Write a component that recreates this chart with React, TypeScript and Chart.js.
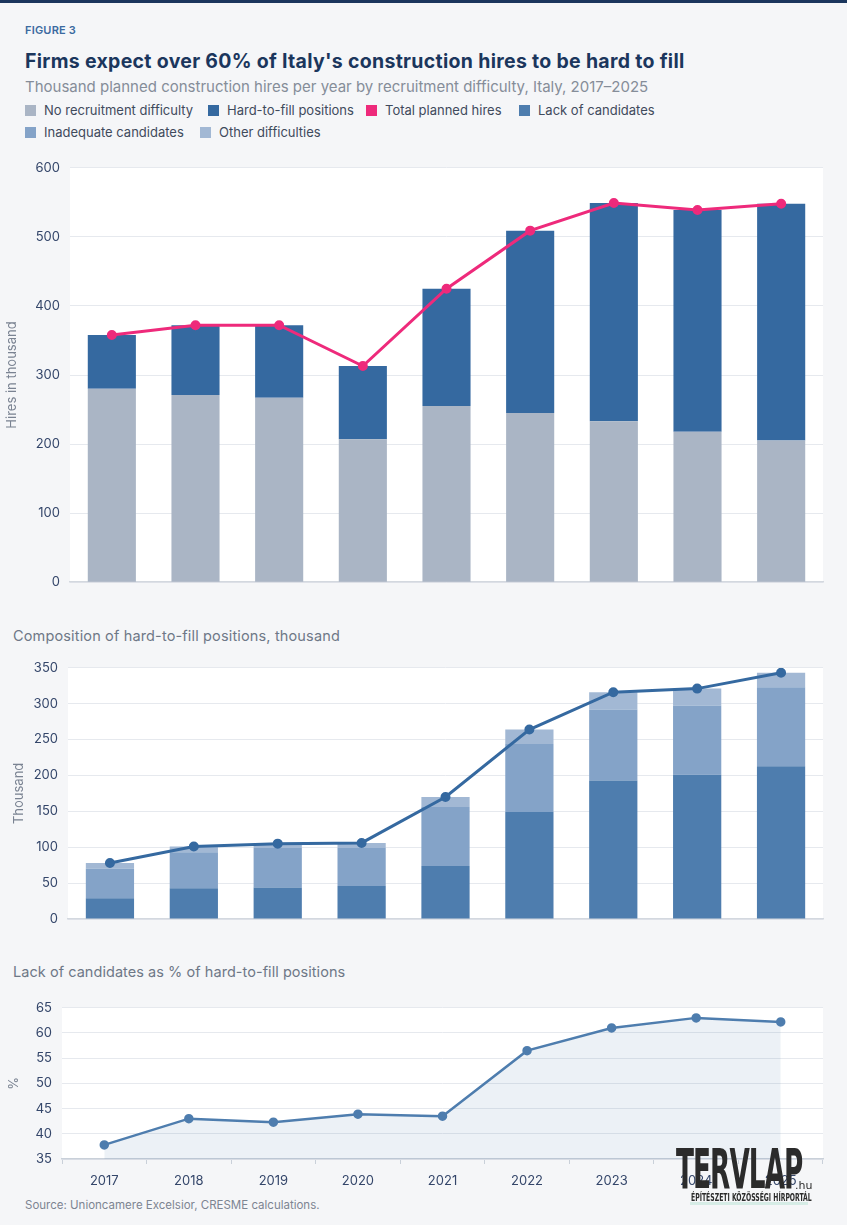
import React, { useEffect, useRef } from 'react';
import { Chart, registerables } from 'chart.js';

Chart.register(...registerables);

const FONT = 'Inter, "Noto Sans", sans-serif';

const years = ['2017', '2018', '2019', '2020', '2021', '2022', '2023', '2024', '2025'];
const noDifficulty = [280, 271, 267, 207, 255, 245, 233, 218, 205];
const hardToFill = [78, 101, 105, 106, 170, 264, 316, 321, 343];
const totalPlanned = [358, 372, 372, 313, 425, 509, 549, 539, 548];
const lackOfCandidates = [29, 43, 44, 46, 74, 149, 193, 201, 213];
const inadequateCandidates = [41, 50, 55, 53, 82, 95, 99, 96, 110];
const otherDifficulties = [8, 8, 6, 7, 14, 20, 24, 24, 20];
const lackShare = [37.8, 43.0, 42.3, 43.9, 43.5, 56.5, 61.0, 63.0, 62.2];

const topTicks = [0, 100, 200, 300, 400, 500, 600];
const midTicks = [0, 50, 100, 150, 200, 250, 300, 350];
const lowTicks = [35, 40, 45, 50, 55, 60, 65];

const C_GRAY = '#aab5c5';
const C_HARD = '#3569a0';
const C_PINK = '#ee2a7b';
const C_LACK = '#4e7dae';
const C_INAD = '#84a3c8';
const C_OTHER = '#a2b8d4';
const GRID = '#e6e9ee';
const TICK = '#34466a';
const AXTITLE = '#7a8392';

const whiteArea = {
  id: 'whiteArea',
  beforeDraw(chart: any) {
    const { ctx, chartArea } = chart;
    ctx.save();
    ctx.fillStyle = '#ffffff';
    ctx.fillRect(chartArea.left, chartArea.top, chartArea.right - chartArea.left, chartArea.bottom - chartArea.top);
    ctx.restore();
  },
};

function ChartBox({ make, style }: { make: () => any; style: React.CSSProperties }) {
  const ref = useRef<HTMLCanvasElement | null>(null);
  useEffect(() => {
    if (!ref.current) return;
    const chart = new Chart(ref.current, make());
    return () => chart.destroy();
  }, []);
  return (
    <div style={{ position: 'absolute', ...style }}>
      <canvas ref={ref} />
    </div>
  );
}

const tickFont = { family: FONT, size: 13 };
const barCommon = { barPercentage: 0.575, categoryPercentage: 1, borderWidth: 0 };

function yScale(min: number, max: number, ticks: number[], title: string, width: number, titlePad: number) {
  return {
    min,
    max,
    afterBuildTicks(s: any) {
      s.ticks = ticks.map((v) => ({ value: v }));
    },
    afterFit(s: any) {
      s.width = width;
    },
    ticks: { padding: 10, color: TICK, font: tickFont },
    grid: { color: GRID, drawTicks: false, lineWidth: 1 },
    border: { display: false },
    title: { display: true, text: title, color: AXTITLE, font: { family: FONT, size: 13 }, padding: { top: titlePad, bottom: 0 } },
  };
}

function makeTop() {
  return {
    type: 'bar',
    data: {
      labels: years,
      datasets: [
        {
          type: 'line',
          label: 'Total planned hires',
          data: totalPlanned,
          borderColor: C_PINK,
          backgroundColor: C_PINK,
          pointBackgroundColor: C_PINK,
          pointBorderColor: C_PINK,
          borderWidth: 3,
          pointRadius: 3.5,
          order: 0,
        },
        { label: 'No recruitment difficulty', data: noDifficulty, backgroundColor: C_GRAY, stack: 's', order: 1, ...barCommon },
        { label: 'Hard-to-fill positions', data: hardToFill, backgroundColor: C_HARD, stack: 's', order: 1, ...barCommon },
      ],
    },
    options: {
      animation: false,
      responsive: true,
      maintainAspectRatio: false,
      layout: { padding: { top: 15, right: 24, left: 0, bottom: 0 } },
      plugins: { legend: { display: false }, tooltip: { enabled: false } },
      scales: {
        x: {
          stacked: true,
          ticks: { display: false },
          grid: { drawOnChartArea: false, drawTicks: false },
          border: { display: true, color: '#d3d8df', width: 1.5 },
          afterFit(s: any) {
            s.height = 16;
          },
        },
        y: { stacked: true, ...yScale(0, 600, topTicks, 'Hires in thousand', 70, 4) },
      },
    },
    plugins: [whiteArea],
  };
}

function makeMid() {
  return {
    type: 'bar',
    data: {
      labels: years,
      datasets: [
        {
          type: 'line',
          label: 'Hard-to-fill positions',
          data: hardToFill,
          borderColor: C_HARD,
          backgroundColor: C_HARD,
          pointBackgroundColor: C_HARD,
          pointBorderColor: C_HARD,
          borderWidth: 3,
          pointRadius: 3.5,
          order: 0,
        },
        { label: 'Lack of candidates', data: lackOfCandidates, backgroundColor: C_LACK, stack: 's', order: 1, ...barCommon },
        { label: 'Inadequate candidates', data: inadequateCandidates, backgroundColor: C_INAD, stack: 's', order: 1, ...barCommon },
        { label: 'Other difficulties', data: otherDifficulties, backgroundColor: C_OTHER, stack: 's', order: 1, ...barCommon },
      ],
    },
    options: {
      animation: false,
      responsive: true,
      maintainAspectRatio: false,
      layout: { padding: { top: 17, right: 24, left: 0, bottom: 0 } },
      plugins: { legend: { display: false }, tooltip: { enabled: false } },
      scales: {
        x: {
          stacked: true,
          ticks: { display: false },
          grid: { drawOnChartArea: false, drawTicks: false },
          border: { display: true, color: '#d3d8df', width: 1.5 },
          afterFit(s: any) {
            s.height = 21;
          },
        },
        y: { stacked: true, ...yScale(0, 350, midTicks, 'Thousand', 68, 11) },
      },
    },
    plugins: [whiteArea],
  };
}

function makeLow() {
  return {
    type: 'line',
    data: {
      labels: years,
      datasets: [
        {
          label: 'Lack of candidates share',
          data: lackShare,
          borderColor: C_LACK,
          backgroundColor: 'rgba(78,125,174,0.11)',
          pointBackgroundColor: C_LACK,
          pointBorderColor: C_LACK,
          borderWidth: 2.5,
          pointRadius: 3.5,
          fill: 'start',
          tension: 0,
        },
      ],
    },
    options: {
      animation: false,
      responsive: true,
      maintainAspectRatio: false,
      layout: { padding: { top: 13, right: 24, left: 0, bottom: 0 } },
      plugins: { legend: { display: false }, tooltip: { enabled: false } },
      scales: {
        x: {
          offset: true,
          ticks: { color: TICK, font: tickFont, padding: 9 },
          grid: { offset: true, drawOnChartArea: false, drawTicks: true, tickLength: 5, color: '#c9d0d9' },
          border: { display: true, color: '#c9d0d9', width: 1.5 },
          afterFit(s: any) {
            s.height = 31;
          },
        },
        y: yScale(35, 65, lowTicks, '%', 62, 6),
      },
    },
    plugins: [whiteArea],
  };
}

const legendItems = [
  { label: 'No recruitment difficulty', color: C_GRAY, x: 25, y: 110 },
  { label: 'Hard-to-fill positions', color: C_HARD, x: 208, y: 110 },
  { label: 'Total planned hires', color: C_PINK, x: 366, y: 110 },
  { label: 'Lack of candidates', color: C_LACK, x: 519, y: 110 },
  { label: 'Inadequate candidates', color: C_INAD, x: 25, y: 132 },
  { label: 'Other difficulties', color: C_OTHER, x: 200, y: 132 },
];

function Text({ x, y, size, color, weight, children, lh, ls }: any) {
  const h = lh || Math.round(size * 1.4);
  return (
    <div
      style={{
        position: 'absolute',
        left: x,
        top: y - h / 2,
        height: h,
        lineHeight: h + 'px',
        fontSize: size,
        color,
        fontWeight: weight || 400,
        whiteSpace: 'nowrap',
        fontFamily: FONT,
        letterSpacing: ls || 0,
      }}
    >
      {children}
    </div>
  );
}

export default function App() {
  return (
    <div
      style={{
        position: 'absolute',
        left: 0,
        top: 0,
        width: 847,
        height: 1225,
        background: '#f5f6f8',
        overflow: 'hidden',
        fontFamily: FONT,
      }}
    >
      <div style={{ position: 'absolute', left: 0, top: 0, width: 847, height: 3, background: '#1b365d' }} />
      <Text x={25} y={30} size={11} color="#3b6aa0" weight={600} ls={0.2}>FIGURE 3</Text>
      <Text x={25} y={61} size={19.5} color="#1b365d" weight={700} ls={0.3}>Firms expect over 60% of Italy's construction hires to be hard to fill</Text>
      <Text x={25} y={86} size={15} color="#858d99">Thousand planned construction hires per year by recruitment difficulty, Italy, 2017–2025</Text>
      {legendItems.map((it) => (
        <div key={it.label} style={{ position: 'absolute', left: it.x, top: it.y - 9, height: 18, display: 'flex', alignItems: 'center', whiteSpace: 'nowrap' }}>
          <span style={{ display: 'inline-block', width: 11, height: 11, background: it.color, marginRight: 8 }} />
          <span style={{ fontSize: 13, color: '#3f4a5c', fontFamily: FONT }}>{it.label}</span>
        </div>
      ))}

      <ChartBox make={makeTop} style={{ left: 0, top: 150, width: 847, height: 450 }} />

      <Text x={13} y={636} size={14.5} color="#6e7887" ls={0.15}>Composition of hard-to-fill positions, thousand</Text>
      <ChartBox make={makeMid} style={{ left: 0, top: 650, width: 847, height: 290 }} />

      <Text x={13} y={972} size={14.5} color="#6e7887" ls={0.05}>Lack of candidates as % of hard-to-fill positions</Text>
      <ChartBox make={makeLow} style={{ left: 0, top: 990, width: 847, height: 200 }} />

      <Text x={25} y={1205} size={11.5} color="#7d8592">Source: Unioncamere Excelsior, CRESME calculations.</Text>

      <div style={{ position: 'absolute', left: 676, top: 1147, width: 132, height: 60, zIndex: 5 }}>
        <div
          style={{
            position: 'absolute',
            left: 0,
            top: 0,
            fontFamily: '"DejaVu Sans", sans-serif',
            fontWeight: 700,
            fontSize: 56,
            lineHeight: '44px',
            height: 44,
            color: '#2b2b2b',
            transform: 'scaleX(0.47)',
            transformOrigin: 'left top',
            letterSpacing: -2,
            whiteSpace: 'nowrap',
          }}
        >
          TERVLAP
        </div>
        <div style={{ position: 'absolute', left: 119, top: 33, fontSize: 11, fontFamily: '"DejaVu Sans", sans-serif', color: '#2b2b2b', lineHeight: '12px' }}>.hu</div>
        <div style={{ position: 'absolute', left: 14, top: 55, width: 118, height: 3, background: '#d6ece6' }} />
        <div
          style={{
            position: 'absolute',
            left: 15,
            top: 45,
            fontSize: 10,
            fontWeight: 700,
            fontFamily: '"DejaVu Sans Condensed", "DejaVu Sans", sans-serif',
            color: '#2b2b2b',
            lineHeight: '11px',
            whiteSpace: 'nowrap',
            transform: 'scaleX(0.68)',
            transformOrigin: 'left top',
          }}
        >
          ÉPÍTÉSZETI KÖZÖSSÉGI HÍRPORTÁL
        </div>
      </div>
    </div>
  );
}
